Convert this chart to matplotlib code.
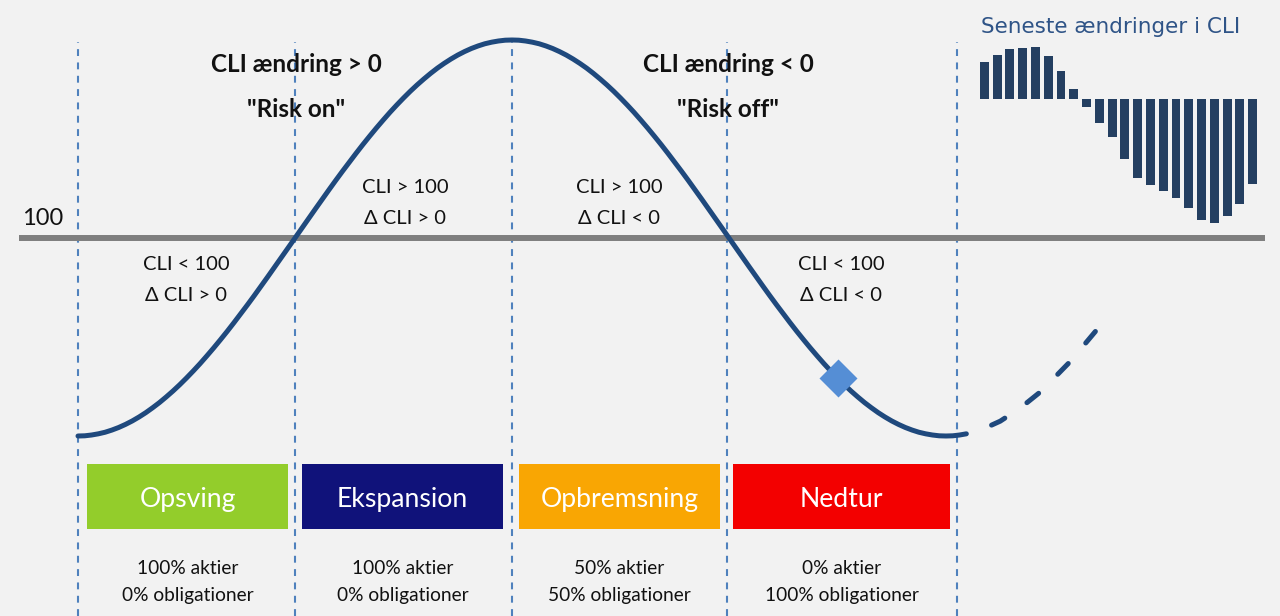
import numpy as np
import matplotlib.pyplot as plt
from matplotlib.patches import Rectangle

plt.rcParams['font.family'] = ['Lato', 'DejaVu Sans']

# CLI through one cycle, read in steps of 1/32 quarter (0 = trough, 2 = peak, 4 = trough)
cycle_cli = [98.000, 98.002, 98.010, 98.022, 98.038, 98.060, 98.086, 98.117,
             98.152, 98.192, 98.236, 98.285, 98.337, 98.394, 98.454, 98.518,
             98.586, 98.657, 98.731, 98.809, 98.889, 98.972, 99.057, 99.145,
             99.235, 99.326, 99.419, 99.514, 99.610, 99.707, 99.804, 99.902,
             100.000, 100.098, 100.196, 100.293, 100.390, 100.486, 100.581, 100.674,
             100.765, 100.855, 100.943, 101.028, 101.111, 101.191, 101.269, 101.343,
             101.414, 101.482, 101.546, 101.606, 101.663, 101.716, 101.764, 101.808,
             101.848, 101.883, 101.914, 101.940, 101.962, 101.978, 101.990, 101.998,
             102.000, 101.998, 101.990, 101.978, 101.962, 101.940, 101.914, 101.883,
             101.848, 101.808, 101.764, 101.716, 101.663, 101.606, 101.546, 101.482,
             101.414, 101.343, 101.269, 101.191, 101.111, 101.028, 100.943, 100.855,
             100.765, 100.674, 100.581, 100.486, 100.390, 100.293, 100.196, 100.098,
             100.000, 99.902, 99.804, 99.707, 99.610, 99.514, 99.419, 99.326,
             99.235, 99.145, 99.057, 98.972, 98.889, 98.809, 98.731, 98.657,
             98.586, 98.518, 98.454, 98.394, 98.337, 98.285, 98.236, 98.192,
             98.152, 98.117, 98.086, 98.060, 98.038, 98.022, 98.010, 98.002,
             98.000, 98.002, 98.010, 98.022]
cycle_phase = np.arange(len(cycle_cli)) / 32

# expected path after the trough
next_phase = [4.21, 4.25, 4.3125, 4.375, 4.4375, 4.5, 4.5625, 4.625, 4.69]
next_cli = [98.11, 98.15, 98.24, 98.34, 98.45, 98.59, 98.73, 98.89, 99.06]

# where we are now
now_phase = 3.5
now_cli = 98.59

phase_bounds = [0, 1.0, 2.0, 2.99, 4.05]
phase_names = ["Opsving", "Ekspansion", "Opbremsning", "Nedtur"]
phase_colors = ["#93cd2b", "#10127a", "#f9a603", "#f30000"]
box_start = [0.04, 1.03, 2.03, 3.02]
box_end = [0.97, 1.96, 2.96, 4.02]
stocks = ["100% aktier", "100% aktier", "50% aktier", "0% aktier"]
bonds = ["0% obligationer", "0% obligationer", "50% obligationer", "100% obligationer"]

# latest monthly changes in CLI (small bar chart)
cli_changes = [0.37, 0.44, 0.50, 0.51, 0.52, 0.43, 0.28, 0.10, -0.08, -0.24, -0.38,
               -0.60, -0.79, -0.86, -0.92, -0.99, -1.09, -1.21, -1.24, -1.17, -1.05, -0.85]

W, H = 1280, 616
BG = "#f2f2f2"
CURVE = "#1f497d"
INK = "#111111"

fig = plt.figure(figsize=(W / 100, H / 100), dpi=100)
fig.patch.set_facecolor(BG)

ax = fig.add_axes([0, 0, 1, 1])
ax.set_facecolor(BG)
ax.axis("off")
ax.set_xlim(-78 / 217, (W - 78) / 217)
ax.set_ylim(100 - (H - 238) / 99, 100 + 238 / 99)

# level 100
ax.plot([-0.272, 5.47], [100, 100], color="#7f7f7f", lw=4.3, solid_capstyle="butt", zorder=2)

# phase boundaries
ax.vlines(phase_bounds, ax.get_ylim()[0], 101.98, colors="#4f81bd", lw=1.5,
          linestyles=(0, (3.3, 3.1)), zorder=1)

ax.plot(cycle_phase, cycle_cli, color=CURVE, lw=3.6, solid_capstyle="round",
        solid_joinstyle="round", zorder=3)
ax.plot(next_phase, next_cli, color=CURVE, lw=3.6, dash_capstyle="round",
        linestyle=(0, (3.0, 5.4)), zorder=3)
ax.plot([now_phase], [now_cli], marker="D", ms=19, color="#558ed5", mec="none", zorder=4)

# phase boxes
box_tr = ax.get_xaxis_transform()
y0, y1 = 1 - 529 / H, 1 - 464 / H
for s, e, c in zip(box_start, box_end, phase_colors):
    ax.add_patch(Rectangle((s, y0), e - s, y1 - y0, transform=box_tr,
                           facecolor=c, edgecolor="none", zorder=2))


def txt(x, y, s, **kw):
    fig.text(x / W, 1 - y / H, s, **kw)


for s, e, name, st, bo in zip(box_start, box_end, phase_names, stocks, bonds):
    xc = 78 + (s + e) / 2 * 217
    txt(xc, 507, name, color="white", fontsize=19.2, ha="center", va="baseline")
    txt(xc, 574, st, color=INK, fontsize=13.8, ha="center", va="baseline")
    txt(xc, 601, bo, color=INK, fontsize=13.8, ha="center", va="baseline")

# headline texts
for xc, l1, l2 in [(296, "CLI ændring > 0", "\"Risk on\""),
                   (728, "CLI ændring < 0", "\"Risk off\"")]:
    txt(xc, 72, l1, fontsize=17.5, fontweight="bold", ha="center", va="baseline", color=INK)
    txt(xc, 117, l2, fontsize=17.5, fontweight="bold", ha="center", va="baseline", color=INK)

# quadrant texts
for xc, yb, l1, l2 in [(405, 193, "CLI > 100", "Δ CLI > 0"),
                       (619, 193, "CLI > 100", "Δ CLI < 0"),
                       (186, 270, "CLI < 100", "Δ CLI > 0"),
                       (841, 270, "CLI < 100", "Δ CLI < 0")]:
    txt(xc, yb, l1, fontsize=14.5, ha="center", va="baseline", color=INK)
    txt(xc, yb + 31, l2, fontsize=14.5, ha="center", va="baseline", color=INK)

txt(22, 225, "100", fontsize=17, ha="left", va="baseline", color=INK)

# small bar chart of recent changes
txt(981, 33, "Seneste ændringer i CLI", fontsize=15.5, family="DejaVu Sans",
    ha="left", va="baseline", color="#2f5487")
ax2 = fig.add_axes([978 / W, 1 - 225 / H, 281 / W, 180 / H])
ax2.axis("off")
ax2.bar(np.arange(len(cli_changes)), cli_changes, width=0.7, color="#243f61")
ax2.set_xlim(-0.5, len(cli_changes) - 0.5)
ax2.set_ylim(-1.26, 0.54)

fig.savefig("out.png", dpi=100, facecolor=BG)
